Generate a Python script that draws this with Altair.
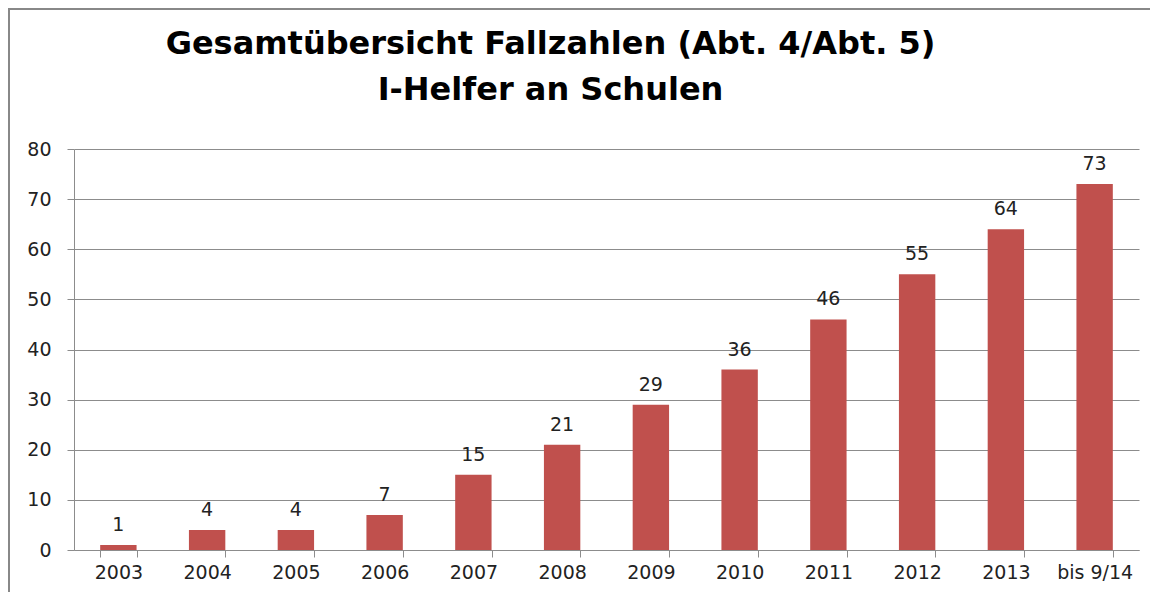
import altair as alt
import pandas as pd

categories = ["2003", "2004", "2005", "2006", "2007", "2008", "2009", "2010", "2011", "2012", "2013", "bis 9/14"]
values = [1, 4, 4, 7, 15, 21, 29, 36, 46, 55, 64, 73]
y_ticks = [0, 10, 20, 30, 40, 50, 60, 70, 80]
title_lines = ["Gesamtübersicht Fallzahlen (Abt. 4/Abt. 5)", "I-Helfer an Schulen"]

df = pd.DataFrame({"Jahr": categories, "Fälle": values})

W, H = 1065, 401
PL, PT, PR, PB = 66, 141, 11, 42
FONT = "DejaVu Sans"
GRID = "#8c8c8c"

x = alt.X("Jahr:N", sort=categories, title=None,
          scale=alt.Scale(paddingInner=0.59, paddingOuter=0.295),
          axis=alt.Axis(labelAngle=0, labelFont=FONT, labelFontSize=19, labelColor="#222",
                        tickBand="extent", tickColor=GRID, tickSize=7, domainColor=GRID,
                        labelPadding=6, grid=False))
y = alt.Y("Fälle:Q", title=None,
          scale=alt.Scale(domain=[0, 80]),
          axis=alt.Axis(values=y_ticks, labelFont=FONT, labelFontSize=19, labelColor="#222",
                        tickColor=GRID, tickSize=7, domainColor=GRID, gridColor=GRID,
                        labelPadding=16))

base = alt.Chart(df)
bars = base.mark_bar(color="#C0504D").encode(x=x, y=y)
labels = base.mark_text(font=FONT, fontSize=19, color="#222", baseline="alphabetic", dy=-14).encode(
    x=alt.X("Jahr:N", sort=categories), y="Fälle:Q", text="Fälle:Q")
frame = alt.Chart(pd.DataFrame({"a": [0]})).mark_rect(fill=None, stroke="#888", strokeWidth=2).encode(
    x=alt.value(-65), x2=alt.value(W + PR + 20), y=alt.value(-140), y2=alt.value(H + PB + 20))

chart = alt.layer(frame, bars, labels).properties(
    width=W, height=H,
    title=alt.TitleParams(text=title_lines, font="DejaVu Sans", fontSize=32, fontWeight="bold",
                          color="#000", anchor="middle", dx=-56, offset=-99, lineHeight=46),
    autosize=alt.AutoSizeParams(type="none"),
    padding={"left": PL, "top": PT, "right": PR, "bottom": PB},
).configure_view(stroke=None)

chart.save("out.html", embed_options={"renderer": "svg", "actions": False})
